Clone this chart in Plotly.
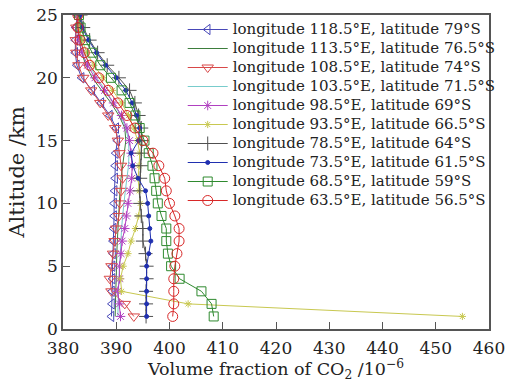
import plotly.graph_objects as go

altitude_km = list(range(1, 26))

series_names = [
    "longitude 118.5°E, latitude 79°S",
    "longitude 113.5°E, latitude 76.5°S",
    "longitude 108.5°E, latitude 74°S",
    "longitude 103.5°E, latitude 71.5°S",
    "longitude 98.5°E, latitude 69°S",
    "longitude 93.5°E, latitude 66.5°S",
    "longitude 78.5°E, latitude 64°S",
    "longitude 73.5°E, latitude 61.5°S",
    "longitude 68.5°E, latitude 59°S",
    "longitude 63.5°E, latitude 56.5°S",
]

co2_118_5E = [389.1, 389.2, 389.2, 389.3, 389.3, 389.4, 389.4, 389.5, 389.6, 389.6, 389.7, 389.8, 389.8,
              389.9, 390.2, 390.0, 388.8, 387.2, 385.5, 383.5, 382.6, 382.3, 382.3, 382.4, 382.7]
co2_113_5E = [389.8, 389.8, 389.9, 390.0, 390.0, 390.1, 390.2, 390.3, 390.4, 390.5, 390.7, 390.9, 391.2,
              391.5, 391.8, 391.6, 390.5, 389.0, 387.3, 385.5, 384.3, 383.5, 383.0, 382.8, 382.9]
co2_108_5E = [393.3, 391.6, 389.1, 388.8, 389.1, 389.4, 389.7, 390.0, 390.5, 390.7, 390.9, 391.2, 390.9,
              390.6, 390.3, 389.8, 388.5, 387.0, 385.3, 383.8, 382.9, 382.5, 382.4, 382.5, 382.8]
co2_103_5E = [390.3, 390.3, 390.4, 390.5, 390.6, 390.7, 390.8, 391.0, 391.2, 391.4, 391.7, 392.0, 392.3,
              392.4, 392.3, 391.8, 390.8, 389.5, 388.0, 386.3, 385.0, 384.0, 383.4, 383.0, 383.0]
co2_98_5E = [390.8, 390.6, 390.3, 390.6, 390.6, 390.9, 391.1, 391.6, 391.9, 392.2, 392.6, 392.9, 393.0,
             392.8, 392.5, 392.0, 391.0, 389.5, 387.8, 386.0, 384.6, 383.6, 383.0, 382.7, 382.8]
co2_93_5E = [455.0, 403.5, 391.0, 390.8, 391.3, 392.2, 392.8, 393.6, 394.2, 394.5, 394.3, 394.1, 394.3,
             394.4, 394.0, 393.3, 392.3, 391.0, 389.3, 387.5, 385.8, 384.5, 383.6, 383.0, 383.0]
co2_78_5E = [395.6, 395.6, 395.6, 395.7, 395.7, 395.5, 395.0, 395.0, 394.7, 394.5, 394.4, 394.5, 394.6,
             394.7, 394.8, 394.7, 394.2, 393.5, 392.5, 390.5, 388.3, 386.5, 385.0, 383.8, 383.3]
co2_73_5E = [395.7, 395.7, 395.7, 395.7, 395.7, 396.1, 396.5, 396.3, 396.1, 395.9, 395.5, 394.1, 393.1,
             392.8, 394.2, 394.4, 393.8, 393.0, 391.8, 390.0, 388.0, 386.3, 384.8, 383.6, 383.2]
co2_68_5E = [408.3, 407.9, 406.0, 401.9, 400.3, 399.7, 399.4, 399.4, 398.5, 397.8, 397.5, 397.2, 396.8,
             396.1, 395.3, 394.4, 393.6, 392.5, 391.0, 389.0, 387.0, 385.5, 384.2, 383.3, 383.0]
co2_63_5E = [400.6, 400.8, 400.8, 400.8, 401.0, 401.4, 401.8, 401.8, 401.0, 400.0, 399.4, 399.1, 398.0,
             396.9, 395.0, 393.5, 392.0, 390.3, 388.5, 386.7, 385.0, 384.0, 383.2, 382.8, 382.8]

x_ticks = [380, 390, 400, 410, 420, 430, 440, 450, 460]
y_ticks = [0, 5, 10, 15, 20, 25]

values = [co2_118_5E, co2_113_5E, co2_108_5E, co2_103_5E, co2_98_5E,
          co2_93_5E, co2_78_5E, co2_73_5E, co2_68_5E, co2_63_5E]

styles = [
    dict(color="#4848b8", symbol="triangle-left-open", size=9, mode="lines+markers"),
    dict(color="#3d7d3d", symbol="circle", size=1, mode="lines"),
    dict(color="#d84848", symbol="triangle-down-open", size=10, mode="lines+markers"),
    dict(color="#78cccc", symbol="circle", size=1, mode="lines"),
    dict(color="#b040c0", symbol="asterisk-open", size=8, mode="lines+markers"),
    dict(color="#c8c850", symbol="asterisk-open", size=6, mode="lines+markers"),
    dict(color="#505050", symbol="cross-thin-open", size=10, mode="lines+markers"),
    dict(color="#2030b0", symbol="circle", size=4, mode="lines+markers"),
    dict(color="#2f8a2f", symbol="square-open", size=9, mode="lines+markers"),
    dict(color="#d82828", symbol="circle-open", size=10, mode="lines+markers"),
]

fig = go.Figure()
for name, vals, st in zip(series_names, values, styles):
    fig.add_trace(go.Scatter(
        x=vals, y=altitude_km, mode=st["mode"],
        name='<span style="font-size:15px">' + name + '</span>',
        line=dict(color=st["color"], width=1),
        marker=dict(symbol=st["symbol"], size=st["size"], color=st["color"],
                    line=dict(color=st["color"], width=1)),
    ))

font_family = "DejaVu Serif"
axis_common = dict(showgrid=False, zeroline=False, showline=True, linecolor="#555555",
                   linewidth=1.5, mirror=True, ticks="inside", ticklen=7, tickwidth=1.2,
                   tickcolor="#555555", tickfont=dict(family=font_family, size=17, color="#222222"))

fig.update_layout(
    width=508, height=382,
    margin=dict(l=63, r=19, t=15, b=53, autoexpand=False),
    paper_bgcolor="white", plot_bgcolor="white",
    font=dict(family=font_family, color="#222222"),
    showlegend=True,
    legend=dict(x=0.281, y=1.0, xanchor="left", yanchor="top", bgcolor="rgba(0,0,0,0)",
                borderwidth=0, font=dict(family=font_family, size=11, color="#222222"),
                itemwidth=40, tracegroupgap=0),
    xaxis=dict(range=[380, 460], tickvals=x_ticks, ticklabelstandoff=3,
               title=dict(text="Volume fraction of CO<sub>2</sub> /10<sup>−6</sup>",
                          font=dict(family=font_family, size=17.5), standoff=5),
               **axis_common),
    yaxis=dict(range=[0, 25], tickvals=y_ticks,
               title=dict(text="Altitude /km", font=dict(family=font_family, size=21), standoff=6),
               **axis_common),
)

fig.write_html("out.html")
